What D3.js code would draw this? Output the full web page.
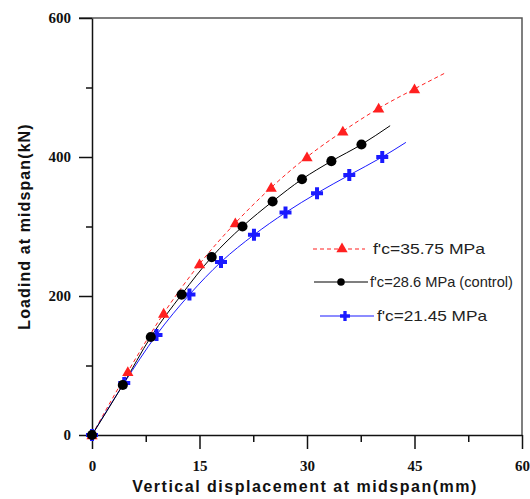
<!DOCTYPE html>
<html>
<head>
<meta charset="utf-8">
<script src="https://cdn.jsdelivr.net/npm/d3@7"></script>
<style>
  body { margin: 0; background: #fff; }
  svg { display: block; }
</style>
</head>
<body>
<svg id="chart" width="530" height="499"></svg>
<script>
// Data (last point of each series is the line end, no marker)
const redX = [0, 5, 10, 15, 20, 25, 30, 35, 40, 45, 49.3];
const redY = [0, 91, 175, 246, 305, 356, 400, 437, 470, 498, 521];

const blackX = [0, 4.3, 8.2, 12.5, 16.7, 21.0, 25.2, 29.3, 33.4, 37.6, 41.6];
const blackY = [0, 72, 141, 202, 256, 300, 336, 368, 394, 418, 445];

const blueX = [0, 4.5, 9.0, 13.6, 18.0, 22.6, 27.0, 31.4, 35.9, 40.5, 43.8];
const blueY = [0, 75, 144, 202, 249, 288, 320, 348, 374, 400, 421];

const legendLabels = ["f'c=35.75 MPa", "f'c=28.6 MPa (control)", "f'c=21.45 MPa"];

const xMajor = [0, 15, 30, 45, 60];
const xMinor = [7.5, 22.5, 37.5, 52.5];
const yMajor = [0, 200, 400, 600];
const yMinor = [100, 300, 500];

const margin = { left: 92, right: 8, top: 18, bottom: 64 };
const width = 530;
const height = 499;

const x = d3.scaleLinear().domain([0, 60]).range([margin.left, width - margin.right]);
const y = d3.scaleLinear().domain([0, 600]).range([height - margin.bottom, margin.top]);

const svg = d3.select("#chart");
const x0 = x.range()[0], x1 = x.range()[1];
const y0 = y.range()[0], y1 = y.range()[1];

// top and right frame
svg.append("path")
  .attr("d", `M${x0 - 13},${y1}H${x1}V${y0}`)
  .attr("fill", "none")
  .attr("stroke", "#555")
  .attr("stroke-width", 1.5);

const tickFont = "'Liberation Serif', 'Times New Roman', serif";

// Y axis
const yAxis = svg.append("g").attr("transform", `translate(${x0},0)`);
yAxis.call(d3.axisLeft(y).tickValues(yMajor).tickSize(13).tickSizeOuter(0).tickPadding(8));
svg.append("g").attr("transform", `translate(${x0},0)`)
  .call(d3.axisLeft(y).tickValues(yMinor).tickSize(6).tickFormat(""))
  .call(g => g.select(".domain").remove());

// X axis
const xAxis = svg.append("g").attr("transform", `translate(0,${y0})`);
xAxis.call(d3.axisBottom(x).tickValues(xMajor).tickSize(14).tickSizeOuter(0).tickPadding(11));
svg.append("g").attr("transform", `translate(0,${y0})`)
  .call(d3.axisBottom(x).tickValues(xMinor).tickSize(7).tickFormat(""))
  .call(g => g.select(".domain").remove());

svg.selectAll(".tick line").attr("stroke", "#111").attr("stroke-width", 1.5);
svg.selectAll(".domain").attr("stroke", "#111").attr("stroke-width", 1.5);
svg.selectAll(".tick text")
  .attr("fill", "#111")
  .style("font-family", tickFont)
  .style("font-weight", "bold")
  .style("font-size", "15px");

// axis titles
svg.append("text")
  .attr("x", (x0 + x1) / 2 - 2)
  .attr("y", 492)
  .attr("text-anchor", "middle")
  .style("font-family", "'Liberation Sans', Arial, sans-serif")
  .style("font-weight", "bold")
  .style("font-size", "16px")
  .style("letter-spacing", "1.5px")
  .attr("fill", "#111")
  .text("Vertical displacement at midspan(mm)");

svg.append("text")
  .attr("transform", `translate(30,${(y0 + y1) / 2}) rotate(-90)`)
  .attr("text-anchor", "middle")
  .style("font-family", "'Liberation Sans', Arial, sans-serif")
  .style("font-weight", "bold")
  .style("font-size", "16px")
  .style("letter-spacing", "1.1px")
  .attr("fill", "#111")
  .text("Loadind at midspan(kN)");

// series
const series = [
  { xs: redX, ys: redY, color: "#ff2020", dash: "4,3", marker: "triangle" },
  { xs: blueX, ys: blueY, color: "#1a1aff", dash: null, marker: "cross" },
  { xs: blackX, ys: blackY, color: "#000", dash: null, marker: "circle" }
];

const line = d3.line()
  .x(d => x(d[0]))
  .y(d => y(d[1]))
  .curve(d3.curveMonotoneX);

const symbols = {
  triangle: d3.symbol().type(d3.symbolTriangle).size(55),
  circle: d3.symbol().type(d3.symbolCircle).size(80),
  cross: d3.symbol().type(d3.symbolCross).size(80)
};

series.forEach(s => {
  const pts = s.xs.map((v, i) => [v, s.ys[i]]);
  svg.append("path")
    .datum(pts)
    .attr("d", line)
    .attr("fill", "none")
    .attr("stroke", s.color)
    .attr("stroke-width", 1)
    .attr("stroke-dasharray", s.dash);
});

series.forEach(s => {
  const pts = s.xs.map((v, i) => [v, s.ys[i]]).slice(0, -1);
  svg.append("g").selectAll("path")
    .data(pts)
    .enter()
    .append("path")
    .attr("d", symbols[s.marker])
    .attr("transform", d => `translate(${x(d[0])},${y(d[1]) + (s.marker === "triangle" ? 1 : 0)})`)
    .attr("fill", s.color);
});

// legend
const legendItems = [
  { label: legendLabels[0], color: "#ff2020", dash: "4,3", marker: "triangle", x1: 313, x2: 365, y: 249, mx: 342, tx: 373, tl: 112 },
  { label: legendLabels[1], color: "#000", dash: null, marker: "circle", x1: 314, x2: 368, y: 282, mx: 341, tx: 370, tl: 143 },
  { label: legendLabels[2], color: "#1a1aff", dash: null, marker: "cross", x1: 320, x2: 374, y: 316, mx: 345, tx: 377, tl: 110 }
];

const legend = svg.append("g");
legendItems.forEach(d => {
  legend.append("line")
    .attr("x1", d.x1).attr("x2", d.x2)
    .attr("y1", d.y).attr("y2", d.y)
    .attr("stroke", d.color)
    .attr("stroke-width", 1.2)
    .attr("stroke-dasharray", d.dash);
  legend.append("path")
    .attr("d", d3.symbol().type(
      d.marker === "triangle" ? d3.symbolTriangle : d.marker === "circle" ? d3.symbolCircle : d3.symbolCross
    ).size(d.marker === "circle" ? 45 : 55))
    .attr("transform", `translate(${d.mx},${d.y})`)
    .attr("fill", d.color);
  legend.append("text")
    .attr("x", d.tx)
    .attr("y", d.y + 5)
    .attr("textLength", d.tl)
    .attr("lengthAdjust", "spacingAndGlyphs")
    .style("font-family", "'Liberation Sans', Arial, sans-serif")
    .style("font-size", "15px")
    .attr("fill", "#222")
    .text(d.label);
});
</script>
</body>
</html>
